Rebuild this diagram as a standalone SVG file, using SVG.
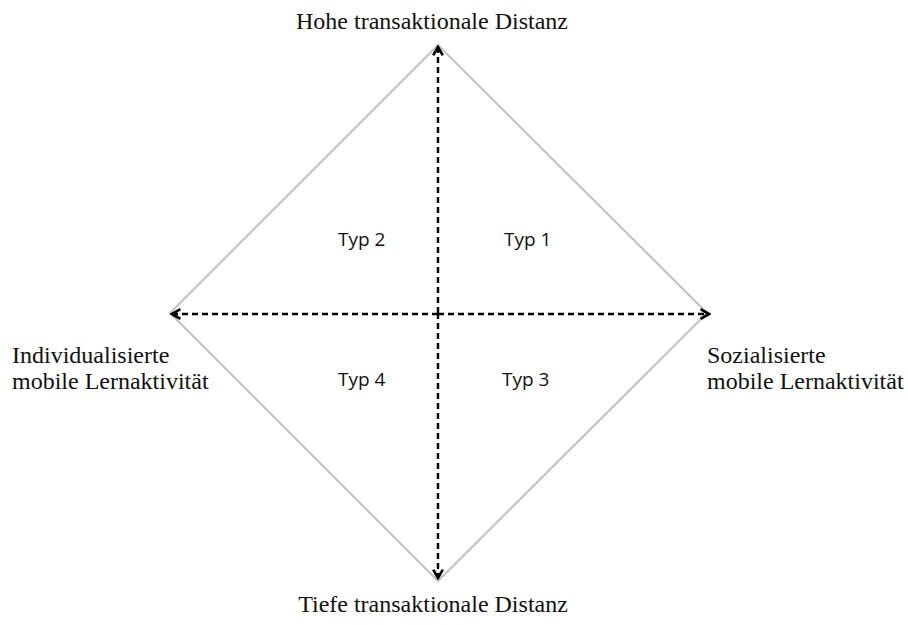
<svg xmlns="http://www.w3.org/2000/svg" width="908" height="625" viewBox="0 0 908 625">
<style>
.edge{fill:none;stroke:#c4c4c4;stroke-width:2.2}
.axis{fill:none;stroke:#000;stroke-width:2.4;stroke-dasharray:6,4}
.lbl{font-family:"Liberation Serif","Times New Roman",serif;font-size:24px;fill:#111}
.typ{font-family:"Open Sans","Liberation Sans",sans-serif;font-size:19px;fill:#111}
</style>
<defs>
<marker id="ah" viewBox="0 0 10 10" refX="8" refY="5" markerWidth="5" markerHeight="5" orient="auto" markerUnits="strokeWidth">
<path d="M1,1 L8,5 L1,9" fill="none" stroke="#000" stroke-width="2.2"/>
</marker>
</defs>
<rect width="908" height="625" fill="#fff"/>
<g id="diamond">
<polygon class="edge" points="438,45 707,313 438,581 170,313"/>
</g>
<g id="connectors">
<line class="axis" x1="438" y1="313" x2="438" y2="47" marker-end="url(#ah)"/>
<line class="axis" x1="438" y1="313" x2="438" y2="578" marker-end="url(#ah)"/>
<line class="axis" x1="438" y1="314" x2="172" y2="314" marker-end="url(#ah)"/>
<line class="axis" x1="438" y1="314" x2="709" y2="314" marker-end="url(#ah)"/>
</g>
<g id="top"><text class="lbl" x="432" y="29" text-anchor="middle">Hohe transaktionale Distanz</text></g>
<g id="bottom"><text class="lbl" x="433" y="612" text-anchor="middle">Tiefe transaktionale Distanz</text></g>
<g id="left"><text class="lbl" x="12" y="363">Individualisierte</text><text class="lbl" x="12" y="389">mobile Lernaktivität</text></g>
<g id="right"><text class="lbl" x="707" y="363">Sozialisierte</text><text class="lbl" x="707" y="389">mobile Lernaktivität</text></g>
<g id="typ1"><text class="typ" x="504" y="246">Typ 1</text></g>
<g id="typ2"><text class="typ" x="338" y="246">Typ 2</text></g>
<g id="typ3"><text class="typ" x="502" y="386">Typ 3</text></g>
<g id="typ4"><text class="typ" x="338" y="386">Typ 4</text></g>
</svg>
